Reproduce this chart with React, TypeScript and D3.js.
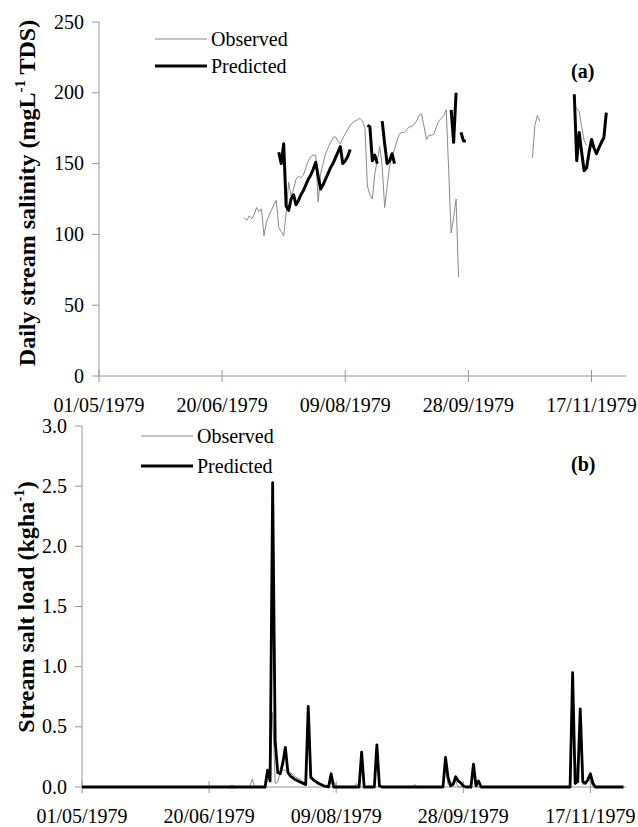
import React from "react";
import * as d3 from "d3";

// x axis ticks (every 50 days) and y ticks
const tickDates = ["01/05/1979", "20/06/1979", "09/08/1979", "28/09/1979", "17/11/1979"];
const salinityTicks = [0, 50, 100, 150, 200, 250];
const loadTicks = [0, 0.5, 1, 1.5, 2, 2.5, 3];

// (a) observed daily salinity, null = gap
const obsSalDates = [
  "29/06", "30/06", "01/07", "02/07", "03/07", "04/07", "05/07", "06/07", "07/07", "08/07",
  "09/07", "10/07", "11/07", "12/07", "13/07", "14/07", "15/07", "16/07", "17/07", "18/07",
  "19/07", "20/07", "21/07", "22/07", "23/07", "24/07", "25/07", "26/07", "27/07", "28/07",
  "29/07", "30/07", "31/07", "01/08", "02/08", "03/08", "04/08", "05/08", "06/08", "07/08",
  "08/08", "09/08", "10/08", "11/08", "12/08", "13/08", "14/08", "15/08", "16/08", "17/08",
  "18/08", "19/08", "20/08", "21/08", "22/08", "23/08", "24/08", "25/08", "26/08", "27/08",
  "28/08", "29/08", "30/08", "31/08", "01/09", "02/09", "03/09", "04/09", "05/09", "06/09",
  "07/09", "08/09", "09/09", "10/09", "11/09", "12/09", "13/09", "14/09", "15/09", "16/09",
  "17/09", "18/09", "19/09", "20/09", "21/09", "22/09", "23/09", "24/09", "25/09",
  "24/10", "25/10", "26/10", "27/10", "28/10",
  "10/11", "11/11", "12/11", "13/11", "14/11", "15/11",
];
const obsSalValues = [
  112, 110, 113, 111, 114, 119, 116, 118, 99, 109,
  113, 117, 121, 124, 105, 102, 99, 115, 137, 127,
  132, 139, 141, 140, 142, 147, 152, 155, 156, 156,
  123, 143, 150, 157, 161, 165, 168, 169, 166, 164,
  168, 171, 174, 177, 179, 180, 181, 182, 180, 175,
  134, 128, 125, 143, 152, 162, 148, 119, 134, 148,
  155, 160, 166, 171, 172, 172, 174, 176, 176, 178,
  180, 184, 185, 176, 167, 170, 170, 171, 176, 180,
  182, 184, 188, 145, 101, 112, 125, 70, null,
  154, 177, 184, 180, null,
  191, 189, 187, 176, 166, 163,
];

// (a) predicted daily salinity
const predSalDates = [
  "13/07", "14/07", "15/07", "16/07", "17/07", "18/07", "19/07", "20/07", "21/07", "22/07",
  "23/07", "24/07", "25/07", "26/07", "27/07", "28/07", "29/07", "30/07", "31/07", "01/08",
  "02/08", "03/08", "04/08", "05/08", "06/08", "07/08", "08/08", "09/08", "10/08", "11/08", "12/08",
  "18/08", "19/08", "20/08", "21/08", "22/08", "23/08",
  "24/08", "25/08", "26/08", "27/08", "28/08", "29/08", "30/08",
  "21/09", "22/09", "23/09", "24/09",
  "25/09", "26/09", "27/09", "28/09",
  "10/11", "11/11", "12/11", "13/11", "14/11", "15/11", "16/11", "17/11", "18/11", "19/11",
  "20/11", "21/11", "22/11", "23/11",
];
const predSalValues = [
  158, 150, 164, 120, 117, 125, 128, 121, 124, 128,
  131, 135, 139, 142, 146, 151, 141, 132, 135, 139,
  143, 147, 150, 154, 158, 162, 150, 152, 155, 160, null,
  177, 176, 152, 156, 150, null,
  180, 164, 150, 152, 157, 150, null,
  188, 165, 200, null,
  172, 166, 166, null,
  199, 152, 172, 158, 145, 147, 158, 167, 161, 157,
  161, 165, 168, 186,
];

// (b) observed daily salt load
const obsLoadDates = [
  "01/05", "28/06", "29/06", "30/06", "06/07", "07/07", "08/07", "12/07", "13/07", "14/07",
  "15/07", "16/07", "17/07", "18/07", "19/07", "20/07", "21/07", "22/07", "23/07", "24/07",
  "25/07", "26/07", "27/07", "28/07", "29/07", "30/07", "31/07", "01/08", "02/08", "03/08",
  "05/08", "06/08", "07/08", "08/08", "09/08", "10/08", "16/08", "17/08", "18/08", "19/08",
  "20/08", "24/08", "25/08", "26/08", "08/09", "09/09", "10/09", "20/09", "21/09", "22/09",
  "25/09", "26/09", "01/10", "02/10", "03/10", "09/11", "10/11", "11/11", "13/11", "14/11",
  "17/11", "18/11", "30/11",
];
const obsLoadValues = [
  0, 0, 0.015, 0, 0, 0.065, 0, 0, 0.05, 0.13,
  0.62, 0.03, 0.04, 0.13, 0.14, 0.14, 0.13, 0.12, 0.1, 0.085,
  0.07, 0.06, 0.04, 0.03, 0.5, 0.07, 0.05, 0.04, 0.03, 0.02,
  0.01, 0.02, 0.03, 0.045, 0.01, 0, 0, 0.03, 0, 0.2,
  0, 0, 0.25, 0, 0, 0.02, 0, 0, 0.15, 0.02,
  0.05, 0, 0, 0.12, 0, 0, 0.6, 0.02, 0.45, 0.02,
  0.06, 0, 0,
];

// (b) predicted daily salt load
const predLoadDates = [
  "01/05", "12/07", "13/07", "14/07", "15/07", "16/07", "17/07", "18/07", "19/07", "20/07",
  "21/07", "22/07", "23/07", "24/07", "25/07", "26/07", "27/07", "28/07", "29/07", "30/07",
  "31/07", "01/08", "02/08", "03/08", "04/08", "05/08", "06/08", "07/08", "08/08", "18/08",
  "19/08", "20/08", "24/08", "25/08", "26/08", "27/08", "20/09", "21/09", "22/09", "23/09",
  "24/09", "25/09", "26/09", "27/09", "28/09", "29/09", "01/10", "02/10", "03/10", "04/10",
  "05/10", "09/11", "10/11", "11/11", "12/11", "13/11", "14/11", "15/11", "16/11", "17/11",
  "18/11", "19/11", "30/11",
];
const predLoadValues = [
  0, 0, 0.14, 0.05, 2.53, 0.38, 0.12, 0.11, 0.2, 0.33,
  0.12, 0.09, 0.075, 0.06, 0.05, 0.04, 0.03, 0.02, 0.67, 0.08,
  0.06, 0.045, 0.03, 0.02, 0.01, 0.005, 0, 0.11, 0, 0,
  0.29, 0, 0, 0.35, 0.01, 0, 0, 0.245, 0.08, 0.01,
  0.02, 0.085, 0.05, 0.035, 0.01, 0, 0, 0.19, 0.01, 0.05,
  0, 0, 0.95, 0.03, 0.045, 0.65, 0.045, 0.03, 0.06, 0.11,
  0.03, 0, 0,
];

const parse = d3.timeParse("%d/%m/%Y");
const toDate = (s: string) => parse(s.length === 5 ? `${s}/1979` : s) as Date;
const zip = (ds: string[], vs: (number | null)[]) =>
  ds.map((d, i) => ({ date: toDate(d), v: vs[i] }));

const FONT = "'Liberation Serif', 'Times New Roman', serif";
const AXIS = "#969696";

type Pt = { date: Date; v: number | null };

const Panel = ({ top, bottom, left, yMax, yTicks, fmt, obs, pred, label, tag, legend, labelX, labelY, obsW, predW }: any) => {
  const right = 626;
  const x = d3.scaleTime().domain([toDate("01/05/1979"), toDate("01/12/1979")]).range([left, right]);
  const y = d3.scaleLinear().domain([0, yMax]).range([bottom, top]);
  const line = d3
    .line<Pt>()
    .defined((d) => d.v != null)
    .x((d) => x(d.date))
    .y((d) => y(d.v as number));

  return (
    <g fontFamily={FONT}>
      {/* y axis */}
      <line x1={left} x2={left} y1={top} y2={bottom} stroke={AXIS} />
      {yTicks.map((t: number) => (
        <g key={t}>
          <line x1={left - 7} x2={left} y1={y(t)} y2={y(t)} stroke={AXIS} />
          <text x={left - 15} y={y(t)} dy="0.33em" textAnchor="end" fontSize={20}>
            {fmt(t)}
          </text>
        </g>
      ))}
      {/* x axis */}
      <line x1={left} x2={right} y1={bottom} y2={bottom} stroke={AXIS} />
      {tickDates.map((s) => (
        <g key={s}>
          <line x1={x(toDate(s))} x2={x(toDate(s))} y1={bottom - 6} y2={bottom + 6} stroke={AXIS} />
          <text x={x(toDate(s))} y={bottom + 36} textAnchor="middle" fontSize={20}>
            {s}
          </text>
        </g>
      ))}
      {/* series */}
      <path d={line(obs) || ""} fill="none" stroke="#8a8a8a" strokeWidth={obsW} strokeLinejoin="round" />
      <path d={line(pred) || ""} fill="none" stroke="#000" strokeWidth={predW} strokeLinejoin="round" />
      {/* legend */}
      <line x1={legend.x1} x2={legend.x2} y1={legend.y1} y2={legend.y1} stroke="#8a8a8a" strokeWidth={1} />
      <text x={legend.tx} y={legend.y1 + 7} fontSize={20}>Observed</text>
      <line x1={legend.x1} x2={legend.x2} y1={legend.y2} y2={legend.y2} stroke="#000" strokeWidth={3} />
      <text x={legend.tx} y={legend.y2 + 7} fontSize={20}>Predicted</text>
      <text x={tag.x} y={tag.y} fontSize={20} fontWeight="bold">{tag.text}</text>
      {/* y label */}
      <text
        transform={`translate(${labelX},${labelY}) rotate(-90)`}
        textAnchor="middle"
        fontSize={24}
        fontWeight="bold"
      >
        {label[0]}
        <tspan dy={-10} fontSize={15}>-1</tspan>
        <tspan dy={10}>{label[1]}</tspan>
      </text>
    </g>
  );
};

export default function App() {
  const obsA = zip(obsSalDates, obsSalValues);
  const predA = zip(predSalDates, predSalValues);
  const obsB = zip(obsLoadDates, obsLoadValues);
  const predB = zip(predLoadDates, predLoadValues);

  return (
    <div style={{ position: "absolute", left: 0, top: 0 }}>
      <svg width={638} height={827} style={{ display: "block", background: "#fff" }}>
        <Panel
          top={22}
          bottom={376}
          left={99}
          yMax={250}
          yTicks={salinityTicks}
          fmt={(t: number) => String(t)}
          obs={obsA}
          pred={predA}
          obsW={1}
          predW={3}
          label={["Daily stream salinity (mgL", " TDS)"]}
          labelX={35}
          labelY={193}
          tag={{ x: 571, y: 78, text: "(a)" }}
          legend={{ x1: 155, x2: 207, tx: 211, y1: 39, y2: 66 }}
        />
        <Panel
          top={426}
          bottom={787}
          left={82}
          yMax={3}
          yTicks={loadTicks}
          fmt={d3.format(".1f")}
          obs={obsB}
          pred={predB}
          obsW={1}
          predW={2.8}
          label={["Stream salt load (kgha", ")"]}
          labelX={34}
          labelY={607}
          tag={{ x: 571, y: 471, text: "(b)" }}
          legend={{ x1: 141, x2: 193, tx: 197, y1: 436, y2: 466 }}
        />
      </svg>
    </div>
  );
}
